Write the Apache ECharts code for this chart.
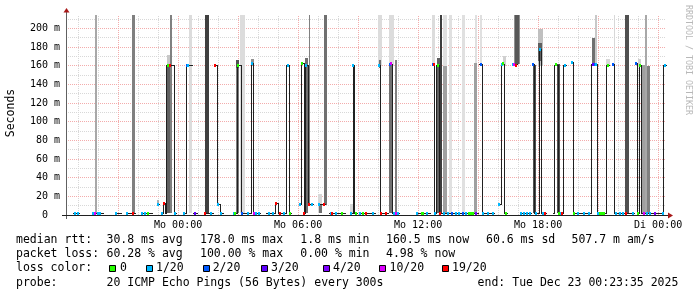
<!DOCTYPE html>
<html><head><meta charset="utf-8">
<script src="https://cdn.jsdelivr.net/npm/echarts@6/dist/echarts.min.js"></script>
<style>html,body{margin:0;padding:0;background:#fff}#c{width:697px;height:297px}</style>
</head><body><div id="c"></div><script>
// time in minutes relative to Mo 00:00 ; values in ms
const T_START = -336.417, T_END = 1463.583;
const Y_MAX = 214.5;
const xLabelValues = [0, 360, 720, 1080, 1440];
const xLabelTexts = ['Mo 00:00', 'Mo 06:00', 'Mo 12:00', 'Mo 18:00', 'Di 00:00'];
const yLabelValues = [0, 20, 40, 60, 80, 100, 120, 140, 160, 180, 200];
const xMinorGrid = [-300,-240,-120,-60,60,120,240,300,420,480,600,660,780,840,960,1020,1140,1200,1320,1380];
const xMajorGrid = [-180,0,180,360,540,720,900,1080,1260,1440];
const yMinorGrid = [10,30,50,70,90,110,130,150,170,190,210];
const yMajorGrid = [20,40,60,80,100,120,140,160,180,200];

const lossBuckets = ['0','1/20','2/20','3/20','4/20','10/20','19/20'];
const lossColors = ['#26ff00','#00b8ff','#0059ff','#5e00ff','#7e00ff','#dd00ff','#ff0000'];

// median rtt runs: [start, end, ms]
const medianRuns = [
[-315,-297,2],[-258,-225,2],[-189,-171,2],[-156,-129,2],[-111,-78,2],[-63,-57,11],
[-51,-45,2],[-45,-39,12],[-39,-36,2],[-36,-12,160],[-12,-6,2],
[15,24,2],[24,42,160],[45,57,2],[78,105,2],
[111,117,160],[117,126,11],[126,135,2],
[165,177,2],[177,189,160],[189,219,2],[219,227,162],[227,246,2],
[264,291,2],[291,300,12],[300,324,2],[324,333,160],[333,339,2],
[363,369,11],[369,378,162],[378,381,2],[381,390,160],[390,405,11],
[420,441,11],[453,501,2],
[516,525,2],[525,528,160],[528,537,2],[543,591,2],
[603,606,160],[606,630,2],[633,642,161],[642,663,2],[714,756,2],
[762,768,161],[768,774,2],[774,783,160],[783,900,2],
[903,912,161],[912,948,2],
[960,969,11],[969,978,161],[978,987,2],
[1002,1017,161],[1026,1059,2],
[1065,1068,161],[1068,1077,2],
[1080,1083,2],[1083,1089,178],[1089,1104,2],
[1125,1128,2],[1128,1140,160],[1140,1155,2],[1155,1164,160],
[1182,1185,164],[1185,1239,2],[1239,1257,161],[1257,1284,2],[1284,1293,160],
[1305,1308,161],[1308,1368,2],
[1371,1377,162],[1377,1383,2],[1383,1389,160],[1389,1455,2],[1455,1464,160]
];

// loss marks: [time, ms, bucket index]
const lossMarks = [
[-310,2,1],[-300,2,1],[-255,2,1],[-250,2,5],[-241,2,1],[-234,2,1],[-186,2,1],
[-153,2,1],[-136,2,6],[-108,2,1],[-99,2,1],[-90,2,0],[-60,11,1],[-48,2,1],[-42,12,6],
[-31,160,0],[-24,160,6],[-10,2,1],[18,2,1],[26,160,2],[30,160,1],[50,2,3],
[81,2,6],[98,2,1],[112,160,6],[119,11,1],[128,2,1],
[168,2,1],[172,2,0],[180,160,0],[192,2,2],[211,2,1],[223,162,1],[229,2,5],[234,2,1],[243,2,1],
[274,2,1],[286,2,1],[294,12,6],[306,2,6],[318,2,1],[329,160,1],[335,2,0],
[366,11,1],[373,162,0],[379,2,6],[384,160,1],[393,11,6],[403,11,1],[423,11,1],[439,11,6],
[458,2,1],[463,2,6],[474,2,1],[491,2,0],[518,2,1],[526,160,1],[533,2,0],
[546,2,1],[556,2,0],[564,2,6],[584,2,1],[604,160,1],[608,2,6],[623,2,6],
[636,161,2],[640,162,5],[649,2,1],[654,2,5],[659,2,1],
[718,2,1],[731,2,0],[734,2,0],[748,2,1],
[765,161,2],[767,161,6],[771,2,1],[779,160,0],[785,2,6],
[798,2,1],[809,2,1],[822,2,2],[833,2,1],[844,2,1],[854,2,2],[863,2,1],[873,2,0],[879,2,0],[885,2,0],[893,2,4],
[908,161,2],[916,2,1],[931,2,1],[946,2,1],
[964,11,1],[973,161,1],[976,162,0],[984,2,0],
[1004,161,1],[1009,161,5],[1014,160,6],
[1028,2,1],[1038,2,1],[1048,2,1],[1056,2,1],[1066,161,2],[1073,2,1],
[1086,178,1],[1094,2,1],[1102,2,6],
[1134,161,0],[1143,2,0],[1148,2,1],[1153,2,6],[1161,160,1],[1183,164,1],[1188,2,0],
[1199,2,1],[1218,2,1],[1234,2,1],[1246,161,3],[1250,161,2],[1254,161,1],
[1259,2,1],[1266,2,0],[1272,2,0],[1278,2,0],[1289,160,0],
[1306,161,2],[1314,2,1],[1326,2,1],[1334,2,1],[1344,2,6],[1364,2,1],
[1374,162,2],[1380,2,0],[1386,160,0],
[1398,2,5],[1407,2,1],[1416,2,1],[1431,2,4],[1454,2,1],[1460,160,1]
];

// smoke: [start, end, low ms, high ms, grey level]
const smokeBars = [
[-249,-243,2,215,168],[-138,-129,2,215,128],[-63,-57,11,16,176],
[-33,-24,160,172,200],[-33,-21,2,160,96],[-24,-18,2,215,128],
[33,42,2,215,220],[81,93,2,215,64],
[174,183,2,165,124],[174,183,158,166,80],[186,201,2,215,220],[219,228,160,167,144],
[381,390,2,168,112],[393,396,11,215,128],
[420,432,2,23,216],[423,432,2,11,112],[438,447,11,215,112],[516,525,2,12,216],
[600,612,160,215,220],[603,609,158,166,112],
[633,648,160,215,220],[633,645,2,162,112],[651,657,2,166,128],
[762,771,160,215,220],[777,786,2,168,96],[786,792,2,215,60],
[795,807,160,215,224],[795,807,2,160,160],[813,822,2,215,224],[852,861,2,215,224],
[888,897,2,163,160],[891,897,163,215,224],[906,912,160,215,224],[975,984,160,170,208],
[1008,1026,162,215,144],[1011,1023,162,215,88],[1065,1074,2,161,80],
[1080,1095,160,200,192],[1080,1092,165,185,96],[1137,1146,2,162,80],
[1242,1257,160,190,112],[1251,1257,160,215,200],[1284,1296,160,167,216],
[1308,1311,160,215,216],[1341,1353,2,215,80],[1380,1389,160,167,208],
[1392,1401,2,161,160],[1401,1407,2,215,168],[1407,1416,2,160,128]
];

// build median segments (horizontal runs + vertical connectors)
const medianSegs = [];
medianRuns.forEach((r, i) => {
  medianSegs.push([r[0], r[2], r[1], r[2]]);
  const n = medianRuns[i + 1];
  if (n && n[0] === r[1]) medianSegs.push([r[1], r[2], r[1], n[2]]);
});

const MONO = '"DejaVu Sans Mono", monospace';
const chart = echarts.init(document.getElementById('c'), null, {renderer: 'canvas'});

function gridLine(vertical, color) {
  return function (params, api) {
    const v = api.value(0);
    if (vertical) {
      const a = api.coord([v, 0]), b = api.coord([v, Y_MAX]);
      const x = Math.floor(a[0]) + 0.5;
      return {type: 'line', shape: {x1: x, y1: a[1], x2: x, y2: b[1]}, style: {stroke: color, lineWidth: 1, lineDash: [1, 1]}};
    }
    const a = api.coord([T_START, v]), b = api.coord([T_END, v]);
    const y = Math.floor(a[1]) + 0.5;
    return {type: 'line', shape: {x1: a[0], y1: y, x2: b[0], y2: y}, style: {stroke: color, lineWidth: 1, lineDash: [1, 1]}};
  };
}

const MINOR = '#d8d8d8', MAJOR = '#f3acac';
const legendStyle = (t, x, y, extra) => ({type: 'text', x: x, y: y, style: Object.assign({text: t, font: '11.5px ' + MONO, fill: '#000', verticalAlign: 'middle'}, extra || {})});

const graphics = [
  // axes
  {type: 'line', shape: {x1: 66.5, y1: 219, x2: 66.5, y2: 12}, style: {stroke: '#606060', lineWidth: 1}, z: 100},
  {type: 'line', shape: {x1: 62, y1: 215.5, x2: 669, y2: 215.5}, style: {stroke: '#202020', lineWidth: 1}, z: 100},
  {type: 'polygon', shape: {points: [[63.5, 12.5], [69.5, 12.5], [66.5, 8]]}, style: {fill: '#a81818'}, z: 100},
  {type: 'polygon', shape: {points: [[668, 212.5], [668, 218.5], [673, 215.5]]}, style: {fill: '#a81818'}, z: 100},
  {type: 'text', x: 11, y: 113, rotation: Math.PI / 2, style: {text: 'Seconds', font: '11.5px ' + MONO, fill: '#000', align: 'center', verticalAlign: 'middle'}},
  {type: 'text', x: 688, y: 60, rotation: -Math.PI / 2, style: {text: 'RRDTOOL / TOBI OETIKER', font: '8.3px ' + MONO, fill: '#b8b8b8', align: 'center', verticalAlign: 'middle'}},
  legendStyle('median rtt:', 16, 240), legendStyle('30.8 ms avg', 106.5, 240), legendStyle('178.0 ms max', 200, 240),
  legendStyle('1.8 ms min', 300.3, 240), legendStyle('160.5 ms now', 386, 240), legendStyle('60.6 ms sd', 486, 240),
  legendStyle('507.7 m am/s', 571.5, 240),
  legendStyle('packet loss:', 16, 254.3), legendStyle('60.28 % avg', 106.5, 254.3), legendStyle('100.00 % max', 200, 254.3),
  legendStyle('0.00 % min', 300.3, 254.3), legendStyle('4.98 % now', 386, 254.3),
  legendStyle('loss color:', 16, 268.3),
  legendStyle('probe:', 16, 282.7), legendStyle('20 ICMP Echo Pings (56 Bytes) every 300s', 106.5, 282.7),
  legendStyle('end: Tue Dec 23 00:23:35 2025', 477.6, 282.7)
];
const boxX = [109, 146, 203, 261, 323, 379, 442];
const labX = [120, 156, 212.7, 271, 333, 389.5, 452];
lossBuckets.forEach((b, i) => {
  graphics.push({type: 'rect', shape: {x: boxX[i] + 0.5, y: 265.5, width: 6, height: 6}, style: {fill: lossColors[i], stroke: '#000', lineWidth: 1}});
  graphics.push(legendStyle(b, labX[i], 268.3));
});

chart.setOption({
  animation: false,
  backgroundColor: '#ffffff',
  grid: {left: 66, top: 15, width: 600, height: 200},
  xAxis: {
    type: 'value', min: T_START, max: T_END,
    axisLine: {show: false}, axisTick: {show: false}, splitLine: {show: false},
    axisLabel: {customValues: xLabelValues, formatter: v => xLabelTexts[xLabelValues.indexOf(Math.round(v))] || '',
      fontFamily: 'DejaVu Sans Mono', fontSize: 10, color: '#000', margin: 5}
  },
  yAxis: {
    type: 'value', min: 0, max: Y_MAX,
    axisLine: {show: false}, axisTick: {show: false}, splitLine: {show: false},
    axisLabel: {customValues: yLabelValues, formatter: v => (v === 0 ? '0  ' : v + ' m'),
      fontFamily: 'DejaVu Sans Mono', fontSize: 10, color: '#000', margin: 6}
  },
  graphic: graphics,
  series: [
    {type: 'custom', clip: false, z: 1, silent: true, data: xMinorGrid.map(v => [v]), renderItem: gridLine(true, MINOR)},
    {type: 'custom', clip: false, z: 1, silent: true, data: yMinorGrid.map(v => [v]), renderItem: gridLine(false, MINOR)},
    {type: 'custom', clip: false, z: 1, silent: true, data: xMajorGrid.map(v => [v]), renderItem: gridLine(true, MAJOR)},
    {type: 'custom', clip: false, z: 1, silent: true, data: yMajorGrid.map(v => [v]), renderItem: gridLine(false, MAJOR)},
    {type: 'custom', z: 2, silent: true, data: smokeBars,
      renderItem: (params, api) => {
        const hi = Math.min(api.value(3), Y_MAX);
        const a = api.coord([api.value(0), hi]), b = api.coord([api.value(1), api.value(2)]);
        const g = api.value(4);
        const x0 = Math.round(a[0]), x1 = Math.max(Math.round(b[0]), x0 + 1);
        const y0 = Math.round(a[1]), y1 = Math.round(b[1]);
        return {type: 'rect', shape: {x: x0, y: y0, width: x1 - x0, height: y1 - y0}, style: {fill: 'rgb(' + g + ',' + g + ',' + g + ')'}};
      }},
    {type: 'custom', z: 3, silent: true, data: medianSegs,
      renderItem: (params, api) => {
        const a = api.coord([api.value(0), api.value(1)]), b = api.coord([api.value(2), api.value(3)]);
        let s;
        if (api.value(0) === api.value(2)) {
          const x = Math.floor(a[0]) + 0.5;
          const ya = Math.floor(a[1]) + 0.5, yb = Math.floor(b[1]) + 0.5;
          s = {x1: x, y1: Math.max(ya, yb) + 0.5, x2: x, y2: Math.min(ya, yb) - 0.5};
        } else {
          const y = Math.floor(a[1]) + 0.5;
          s = {x1: Math.floor(a[0]), y1: y, x2: Math.floor(b[0]) + 1, y2: y};
        }
        return {type: 'line', shape: s, style: {stroke: '#202020', lineWidth: 1}};
      }},
    {type: 'custom', z: 4, silent: true, data: lossMarks,
      renderItem: (params, api) => {
        const p = api.coord([api.value(0), api.value(1)]);
        return {type: 'rect', shape: {x: Math.round(p[0]) - 1, y: Math.floor(p[1]) - 1, width: 2, height: 3},
          style: {fill: lossColors[api.value(2)]}};
      }}
  ]
});
</script></body></html>
